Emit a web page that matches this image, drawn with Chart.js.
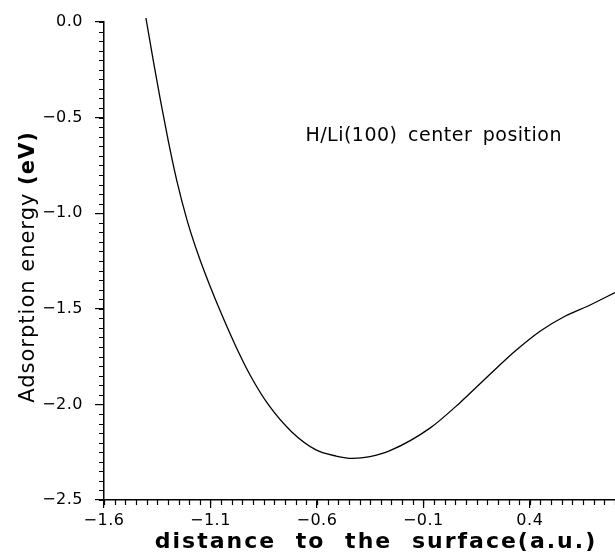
<!DOCTYPE html>
<html>
<head>
<meta charset="utf-8">
<script src="https://cdn.jsdelivr.net/npm/chart.js@4"></script>
<style>
html,body{margin:0;padding:0;background:#fff;}
#wrap{width:615px;height:552px;}
</style>
</head>
<body>
<div id="wrap"><canvas id="c" width="615" height="552"></canvas></div>
<script>
// ---- data ----
const distances = [-1.403, -1.369, -1.335, -1.299, -1.259, -1.210, -1.157, -1.104, -1.046, -0.984, -0.914, -0.827, -0.718, -0.604, -0.510, -0.431, -0.351, -0.257, -0.069, 0.072, 0.213, 0.330, 0.448, 0.565, 0.683, 0.800];
const energies  = [0.021, -0.199, -0.408, -0.617, -0.826, -1.036, -1.219, -1.376, -1.533, -1.689, -1.846, -2.003, -2.144, -2.238, -2.270, -2.282, -2.273, -2.242, -2.124, -1.991, -1.842, -1.722, -1.617, -1.539, -1.480, -1.415];
const xTickValues = [-1.6, -1.1, -0.6, -0.1, 0.4];
const yTickValues = [0.0, -0.5, -1.0, -1.5, -2.0, -2.5];
const xTitle = 'distance to the surface(a.u.)';
const yTitleMain = 'Adsorption energy';
const yTitleUnit = '(eV)';
const annotationText = 'H/Li(100) center position';
const xRange = [-1.6, 0.8];
const yRange = [-2.5, 0.0];
const minorStep = 0.05;

const fmt = v => (v < 0 ? '\u2212' : '') + Math.abs(v).toFixed(1);

const decor = {
  id: 'decor',
  beforeDraw(chart) { chart.ctx.letterSpacing = '0.5px'; },
  afterDraw(chart) {
    const ctx = chart.ctx;
    const a = chart.chartArea;
    const xs = chart.scales.x, ys = chart.scales.y;
    ctx.save();
    ctx.strokeStyle = '#000';
    ctx.lineWidth = 1.2;
    ctx.beginPath();
    const nx = Math.round((xRange[1] - xRange[0]) / minorStep);
    for (let i = 0; i <= nx; i++) {
      const px = Math.round(xs.getPixelForValue(xRange[0] + i * minorStep)) + 0.5;
      ctx.moveTo(px, a.bottom); ctx.lineTo(px, a.bottom + 5);
    }
    const ny = Math.round((yRange[1] - yRange[0]) / minorStep);
    for (let i = 0; i <= ny; i++) {
      const py = Math.round(ys.getPixelForValue(yRange[0] + i * minorStep)) + 0.5;
      ctx.moveTo(a.left, py); ctx.lineTo(a.left - 5, py);
    }
    ctx.stroke();

    ctx.fillStyle = '#000';
    // x title
    ctx.letterSpacing = '2px';
    ctx.wordSpacing = '10px';
    ctx.font = 'bold 22px "DejaVu Sans"';
    ctx.textAlign = 'center';
    ctx.textBaseline = 'alphabetic';
    ctx.fillText(xTitle, 376, 548);
    ctx.wordSpacing = '0px';

    // y title (rotated), two weights
    ctx.save();
    ctx.translate(34, 267);
    ctx.rotate(-Math.PI / 2);
    ctx.letterSpacing = '1px';
    ctx.textAlign = 'left';
    ctx.font = '21px "DejaVu Sans"';
    const w1 = ctx.measureText(yTitleMain + ' ').width;
    ctx.font = 'bold 21px "DejaVu Sans"';
    const w2 = ctx.measureText(yTitleUnit).width;
    const start = -(w1 + w2) / 2;
    ctx.font = '21px "DejaVu Sans"';
    ctx.fillText(yTitleMain + ' ', start, 0);
    ctx.font = 'bold 21px "DejaVu Sans"';
    ctx.fillText(yTitleUnit, start + w1, 0);
    ctx.restore();

    // annotation
    ctx.letterSpacing = '0.5px';
    ctx.wordSpacing = '4px';
    ctx.font = '19px "DejaVu Sans"';
    ctx.textAlign = 'right';
    ctx.fillText(annotationText, 562, 141);
    ctx.wordSpacing = '0px';
    ctx.letterSpacing = '0px';
    ctx.restore();
  }
};

new Chart(document.getElementById('c'), {
  type: 'line',
  data: {
    datasets: [{
      data: distances.map((d, i) => ({ x: d, y: energies[i] })),
      borderColor: '#000',
      borderWidth: 1.3,
      pointRadius: 0,
      fill: false,
      cubicInterpolationMode: 'monotone',
      clip: false
    }]
  },
  options: {
    responsive: false,
    animation: false,
    events: [],
    layout: { padding: { top: 22, right: 0, left: 0, bottom: 0 } },
    plugins: { legend: { display: false }, tooltip: { enabled: false } },
    scales: {
      x: {
        type: 'linear',
        min: xRange[0], max: xRange[1],
        afterBuildTicks: s => { s.ticks = xTickValues.map(v => ({ value: v })); },
        afterFit: s => { s.height = 52; },
        ticks: { callback: fmt, color: '#000', font: { family: 'DejaVu Sans', size: 16 }, padding: 3, maxRotation: 0, autoSkip: false },
        grid: { drawOnChartArea: false, tickLength: 8, color: '#000', lineWidth: 1.2 },
        border: { color: '#000', width: 1.5 }
      },
      y: {
        type: 'linear',
        min: yRange[0], max: yRange[1],
        afterBuildTicks: s => { s.ticks = yTickValues.map(v => ({ value: v })); },
        afterFit: s => { s.width = 104; },
        ticks: { callback: fmt, color: '#000', font: { family: 'DejaVu Sans', size: 16 }, padding: 12, autoSkip: false },
        grid: { drawOnChartArea: false, tickLength: 9, color: '#000', lineWidth: 1.2 },
        border: { color: '#000', width: 1.5 }
      }
    }
  },
  plugins: [decor]
});
</script>
</body>
</html>
